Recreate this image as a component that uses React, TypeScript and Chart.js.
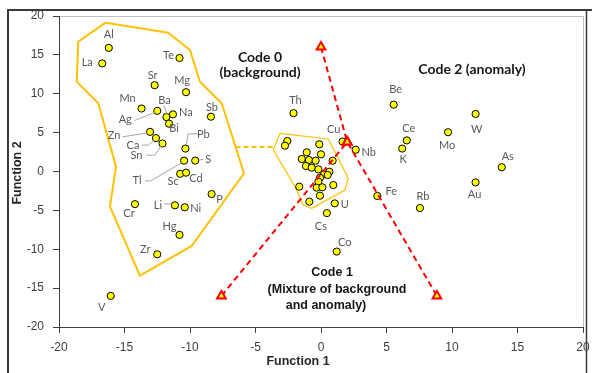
import React, { useEffect, useRef } from "react";
import { Chart, registerables } from "chart.js";
Chart.register(...registerables);

// ---- data ----
const elementNames = ["Al","La","Te","Sr","Mg","Mn","Ag","Ba","Na","Bi","Sb","Zn","Ca","Sn","Pb","Tl","S","Sc","Cd","P","Cr","Li","Ni","Hg","Zr","V","Th","Cu","Nb","U","Cs","Co","Fe","Be","Ce","K","Mo","W","As","Au","Rb"];
const elementX = [-16.2,-16.7,-10.8,-12.7,-10.3,-13.7,-12.5,-11.8,-11.3,-11.6,-8.4,-13.05,-12.6,-12.1,-10.35,-10.45,-9.6,-10.75,-10.3,-8.35,-14.2,-11.15,-10.4,-10.8,-12.5,-16.05,-2.1,1.65,2.65,1.05,0.45,1.2,4.3,5.55,6.55,6.2,9.7,11.8,13.8,11.8,7.55];
const elementY = [15.9,13.9,14.6,11.1,10.2,8.1,7.8,7.0,7.35,6.15,7.05,5.1,4.3,3.6,2.95,1.4,1.4,-0.3,-0.15,-2.9,-4.2,-4.35,-4.6,-8.15,-10.65,-16.0,7.5,3.85,2.8,-4.1,-5.35,-10.3,-3.15,8.6,4.0,2.95,5.05,7.4,0.55,-1.4,-4.7];

const clusterX = [-2.57,-2.75,-0.13,-1.09,0,-1.47,-0.92,-0.41,0.89,-1.15,-0.71,-0.2,0.64,0.23,-0.08,0.51,-0.2,-1.66,-0.33,0.1,0.94,-0.08,-0.89];
const clusterY = [3.92,3.32,3.5,2.47,2.21,1.61,1.48,1.39,1.39,0.71,0.49,0.28,-0.03,-0.36,-0.8,-0.45,-1.31,-1.95,-2.08,-2.03,-1.74,-3.11,-3.88];

const code0HullX = [-16.44,-11.66,-10.0,-9.24,-7.58,-5.88,-9.87,-13.82,-16.11,-15.65,-17.0,-18.65,-18.53,-16.44];
const code0HullY = [19.14,17.85,15.63,11.55,8.77,-0.23,-9.58,-13.4,-4.53,0.62,8.77,11.55,16.69,19.14];

const code1HullX = [-3.13,0.56,2.08,1.83,-0.71,-1.35,-1.98,-3.64,-3.13];
const code1HullY = [4.91,4.18,-0.88,-2.38,-4.73,-4.31,-1.95,2.77,4.91];

const hullLinkX = [-6.52,-3.55];
const hullLinkY = [3.16,3.16];

const boundaryAX = [0,2.0,8.85];
const boundaryAY = [16,3.8,-16];
const boundaryBX = [-7.6,2.0];
const boundaryBY = [-16,3.8];

const axisTicks = [-20,-15,-10,-5,0,5,10,15,20];

// ---- label layout (pixel offsets, style only) ----
const labelOffsets: Record<string, [number, number]> = {
  Al:[0,-13], La:[-15,-1], Te:[-11,-3], Sr:[-2,-10], Mg:[-4,-12], Mn:[-14,-10], Ag:[-32,9], Ba:[-2,-17],
  Na:[13,-2], Bi:[5,5], Sb:[1,-9], Zn:[-36,4], Ca:[-23,7], Sn:[-26,12], Pb:[18,-14], Tl:[-47,20], S:[13,-1],
  Sc:[-7,8], Cd:[10,6], P:[8,5], Cr:[-6,9], Li:[-17,0], Ni:[11,1], Hg:[-10,-8], Zr:[-12,-5], V:[-9,12],
  Th:[2,-13], Cu:[-9,-12], Nb:[13,3], U:[10,1], Cs:[-6,13], Co:[8,-9], Fe:[14,-5], Be:[2,-15], Ce:[2,-12],
  K:[1,11], Mo:[-1,13], W:[1,15], As:[6,-11], Au:[-1,12], Rb:[3,-12],
};
const leaderLines: Record<string, number[][]> = {
  La: [[-5,-1],[-3,-1]],
  Ba: [[-2.4,-11.5],[0.6,-3]],
  Ag: [[-22.7,9.7],[-2.7,1.7]],
  Zn: [[-27.7,5],[-2,1]],
  Ca: [[-14,7],[-7.4,7],[-1.5,1.8]],
  Sn: [[-16,11.7],[-7.7,11.7],[-1.5,2.5]],
  Pb: [[12.6,-14.7],[2.6,-14.7],[1,-3.7]],
  S: [[8.3,-1.2],[4.3,-0.7]],
  Tl: [[-39,20.3],[-33.3,20.3],[-2.5,2.2]],
  Li: [[-10.7,-1.5],[-3.5,-1.5]],
};

const toPts = (xs: number[], ys: number[]) => xs.map((x, i) => ({ x, y: ys[i] }));

const decorPlugin = {
  id: "decor",
  beforeDraw(chart: any) {
    const { ctx, chartArea } = chart;
    ctx.save();
    ctx.fillStyle = "#ffffff";
    ctx.fillRect(0, 0, chart.width, chart.height);
    // outer frame
    ctx.strokeStyle = "#3a3a3a";
    ctx.lineWidth = 2;
    ctx.beginPath();
    ctx.moveTo(8, 373);
    ctx.lineTo(8, 10);
    ctx.lineTo(592, 10);
    ctx.stroke();
    ctx.lineWidth = 1.5;
    ctx.beginPath();
    ctx.moveTo(586.5, 10);
    ctx.lineTo(586.5, 373);
    ctx.stroke();
    // plot area border top/right
    ctx.strokeStyle = "#bfbfbf";
    ctx.lineWidth = 1;
    ctx.beginPath();
    ctx.moveTo(chartArea.left, chartArea.top + 0.5);
    ctx.lineTo(chartArea.right + 0.5, chartArea.top + 0.5);
    ctx.lineTo(chartArea.right + 0.5, chartArea.bottom);
    ctx.stroke();
    ctx.restore();
  },
  afterDatasetsDraw(chart: any) {
    const { ctx } = chart;
    const meta = chart.getDatasetMeta(2);
    ctx.save();
    // leader lines
    ctx.strokeStyle = "#a6a6a6";
    ctx.lineWidth = 1;
    meta.data.forEach((el: any, i: number) => {
      const name = elementNames[i];
      const seg = leaderLines[name];
      if (!seg) return;
      ctx.beginPath();
      seg.forEach((p, k) => {
        if (k === 0) ctx.moveTo(el.x + p[0], el.y + p[1]);
        else ctx.lineTo(el.x + p[0], el.y + p[1]);
      });
      ctx.stroke();
    });
    // labels
    ctx.fillStyle = "#595959";
    ctx.font = "11px Lato";
    ctx.textAlign = "center";
    ctx.textBaseline = "middle";
    meta.data.forEach((el: any, i: number) => {
      const name = elementNames[i];
      const off = labelOffsets[name] || [0, -12];
      ctx.fillText(name, el.x + off[0], el.y + off[1]);
    });
    // region annotations
    ctx.fillStyle = "#161616";
    ctx.font = "bold 14px Lato";
    ctx.fillText("Code 0", 260, 57);
    ctx.fillText("(background)", 260, 72);
    ctx.fillText("Code 2 (anomaly)", 472, 69);
    ctx.font = "bold 12.5px 'Liberation Sans'";
    ctx.fillText("Code 1", 332, 273);
    ctx.fillText("(Mixture of background", 337, 290);
    ctx.fillText("and anomaly)", 326, 306);
    // axis titles
    ctx.fillStyle = "#262626";
    ctx.font = "bold 12.5px 'Liberation Sans'";
    ctx.fillText("Function 1", 298, 362);
    ctx.save();
    ctx.translate(18, 173);
    ctx.rotate(-Math.PI / 2);
    ctx.fillText("Function 2", 0, 0);
    ctx.restore();
    ctx.restore();
  },
};

export default function App() {
  const ref = useRef<HTMLCanvasElement | null>(null);
  useEffect(() => {
    document.body.style.margin = "0";
    const canvas = ref.current!;
    const scaleCommon = (isX: boolean) => ({
      type: "linear" as const,
      min: -20,
      max: 20,
      afterBuildTicks: (s: any) => {
        s.ticks = axisTicks.map((v) => ({ value: v }));
      },
      afterFit: (s: any) => {
        if (isX) {
          s.height = 46;
          s.paddingLeft = 0;
          s.paddingRight = 0;
        } else {
          s.width = 59;
          s.paddingTop = 0;
          s.paddingBottom = 0;
        }
      },
      ticks: {
        color: "#404040",
        font: { family: "'Liberation Sans'", size: 12 },
        padding: isX ? 7 : 9,
        maxRotation: 0,
      },
      grid: {
        drawOnChartArea: false,
        drawTicks: true,
        tickLength: 6,
        color: "#404040",
      },
      border: { display: true, color: "#404040", width: 1 },
    });
    const pointStyle = {
      showLine: false,
      pointRadius: 3.6,
      pointBackgroundColor: "#FFFF00",
      pointBorderColor: "#000000",
      pointBorderWidth: 1,
      backgroundColor: "#FFFF00",
      borderColor: "#000000",
    };
    const chart = new Chart(canvas, {
      type: "scatter",
      data: {
        datasets: [
          {
            data: toPts(boundaryAX, boundaryAY),
            showLine: true,
            borderColor: "#FF0000",
            borderWidth: 2,
            borderDash: [6, 4],
            pointStyle: "triangle",
            pointRadius: 5,
            pointBackgroundColor: "#FFFF00",
            pointBorderColor: "#FF0000",
            pointBorderWidth: 2,
            order: 0,
          } as any,
          {
            data: toPts(boundaryBX, boundaryBY),
            showLine: true,
            borderColor: "#FF0000",
            borderWidth: 2,
            borderDash: [6, 4],
            pointStyle: "triangle",
            pointRadius: 5,
            pointBackgroundColor: "#FFFF00",
            pointBorderColor: "#FF0000",
            pointBorderWidth: 2,
            order: 0,
          } as any,
          { data: toPts(elementX, elementY), ...pointStyle, order: 1 } as any,
          { data: toPts(clusterX, clusterY), ...pointStyle, order: 1 } as any,
          {
            data: toPts(code0HullX, code0HullY),
            showLine: true,
            borderColor: "#FFC000",
            borderWidth: 2,
            pointRadius: 0,
            tension: 0,
            fill: false,
            order: 2,
          } as any,
          {
            data: toPts(code1HullX, code1HullY),
            showLine: true,
            borderColor: "#FFC000",
            borderWidth: 1.2,
            pointRadius: 0,
            tension: 0,
            fill: false,
            order: 2,
          } as any,
          {
            data: toPts(hullLinkX, hullLinkY),
            showLine: true,
            borderColor: "#FFC000",
            borderWidth: 2,
            borderDash: [5, 3],
            pointRadius: 0,
            order: 2,
          } as any,
        ],
      },
      options: {
        responsive: false,
        animation: false,
        devicePixelRatio: 1,
        layout: { padding: { top: 16, right: 9, left: 0, bottom: 0 } },
        plugins: { legend: { display: false }, tooltip: { enabled: false } },
        scales: { x: scaleCommon(true) as any, y: scaleCommon(false) as any },
      },
      plugins: [decorPlugin],
    });
    return () => chart.destroy();
  }, []);
  return (
    <div style={{ position: "absolute", left: 0, top: 0, width: 592, height: 373 }}>
      <canvas ref={ref} width={592} height={373} style={{ display: "block" }} />
    </div>
  );
}
